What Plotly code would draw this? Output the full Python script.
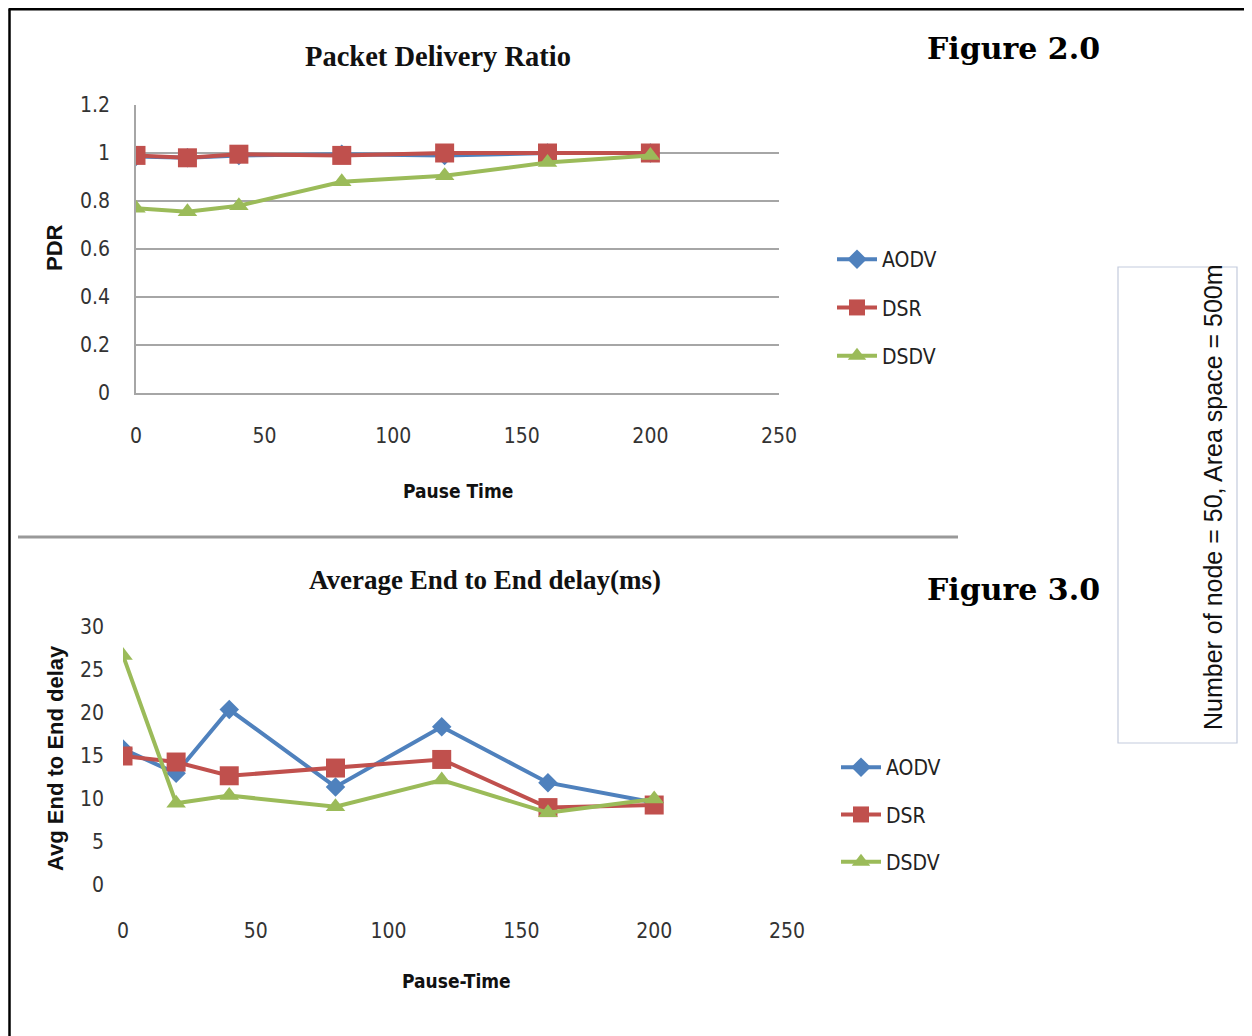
import plotly.graph_objects as go

W, H = 1252, 1036
OX, OY = 8, 8  # page offset of the figure (body margin)

# ---------------- data ----------------
pause_time = [0, 20, 40, 80, 120, 160, 200]
protocols = ["AODV", "DSR", "DSDV"]

pdr_aodv = [0.985, 0.98, 0.99, 0.995, 0.99, 1.0, 1.0]
pdr_dsr = [0.99, 0.98, 0.995, 0.99, 1.0, 1.0, 1.0]
pdr_dsdv = [0.77, 0.755, 0.78, 0.88, 0.905, 0.96, 0.99]

delay_aodv = [15.8, 13.0, 20.4, 11.4, 18.4, 11.9, 9.6]
delay_dsr = [15.0, 14.3, 12.7, 13.6, 14.6, 9.0, 9.3]
delay_dsdv = [26.7, 9.5, 10.4, 9.1, 12.2, 8.4, 10.0]

x_ticks = [0, 50, 100, 150, 200, 250]
pdr_ticks = [0, 0.2, 0.4, 0.6, 0.8, 1, 1.2]
pdr_tick_text = ["0", "0.2", "0.4", "0.6", "0.8", "1", "1.2"]
delay_ticks = [0, 5, 10, 15, 20, 25, 30]
delay_grid = [5, 15, 25]

# ---------------- styles ----------------
colors = {"AODV": "#4F81BD", "DSR": "#C0504D", "DSDV": "#9BBB59"}
symbols = {"AODV": "diamond", "DSR": "square", "DSDV": "triangle-up"}
msize = {"AODV": 15, "DSR": 19, "DSDV": 17}
NARROW = "Liberation Sans Narrow, Arial Narrow, DejaVu Sans Condensed, sans-serif"
SANS = "Liberation Sans, Arial, sans-serif"
SERIF = "Liberation Serif, Times New Roman, serif"
FIGSERIF = "DejaVu Serif, serif"
GRID = "#A6A6A6"
TICKCOL = "#333333"


def px(x):
    return (x - OX) / W


def py(y):
    return 1 - (y - OY) / H


fig = go.Figure()

pdr = {"AODV": pdr_aodv, "DSR": pdr_dsr, "DSDV": pdr_dsdv}
delay = {"AODV": delay_aodv, "DSR": delay_dsr, "DSDV": delay_dsdv}

for p in protocols:
    fig.add_trace(go.Scatter(
        x=pause_time, y=pdr[p], name=p, mode="lines+markers",
        line=dict(color=colors[p], width=4),
        marker=dict(symbol=symbols[p], size=msize[p], color=colors[p]),
        xaxis="x", yaxis="y", legend="legend", legendgroup="a" + p,
    ))
for p in protocols:
    fig.add_trace(go.Scatter(
        x=pause_time, y=delay[p], name=p, mode="lines+markers",
        line=dict(color=colors[p], width=4),
        marker=dict(symbol=symbols[p], size=msize[p], color=colors[p]),
        xaxis="x2", yaxis="y2", legend="legend2", legendgroup="b" + p,
    ))

tickfont = dict(family=NARROW, size=21, color=TICKCOL)

fig.update_layout(
    width=W, height=H,
    margin=dict(l=0, r=0, t=0, b=0, autoexpand=False),
    paper_bgcolor="white", plot_bgcolor="white",
    xaxis=dict(
        domain=[px(136), px(779)], range=[0, 250], tickvals=x_ticks,
        showgrid=False, zeroline=False, automargin=False,
        showline=True, linecolor=GRID, linewidth=1.5,
        ticks="", tickfont=tickfont, ticklabelstandoff=23,
        anchor="y",
    ),
    yaxis=dict(
        domain=[py(393), py(105)], range=[0, 1.2], tickvals=pdr_ticks,
        ticktext=pdr_tick_text, automargin=False,
        showgrid=True, gridcolor=GRID, gridwidth=1.5, zeroline=False,
        showline=True, linecolor=GRID, linewidth=1.5,
        ticks="", tickfont=tickfont, ticklabelstandoff=20,
        anchor="x",
    ),
    xaxis2=dict(
        domain=[px(123), px(787)], range=[0, 250], tickvals=x_ticks,
        showgrid=False, zeroline=False, showline=False, automargin=False,
        ticks="", tickfont=tickfont, ticklabelstandoff=31,
        anchor="y2",
    ),
    yaxis2=dict(
        domain=[py(885), py(627)], range=[0, 30], tickvals=delay_ticks,
        showgrid=False, zeroline=False, showline=False, automargin=False,
        ticks="", tickfont=tickfont, ticklabelstandoff=18,
        anchor="x2",
    ),
    yaxis3=dict(
        overlaying="y2", range=[0, 30], tickvals=delay_grid, automargin=False,
        showgrid=True, gridcolor=GRID, gridwidth=1.5, zeroline=False,
        showticklabels=False, ticks="", anchor="x2",
    ),
    legend=dict(
        x=px(832), y=py(239), xanchor="left", yanchor="top",
        font=dict(family=NARROW, size=21, color="#222222"),
        traceorder="grouped", tracegroupgap=18, bgcolor="rgba(0,0,0,0)",
        itemwidth=40,
    ),
    legend2=dict(
        x=px(836), y=py(747), xanchor="left", yanchor="top",
        font=dict(family=NARROW, size=21, color="#222222"),
        traceorder="grouped", tracegroupgap=17, bgcolor="rgba(0,0,0,0)",
        itemwidth=40,
    ),
    showlegend=True,
)

annotations = [
    dict(text="<b>Packet Delivery Ratio</b>", x=px(438), y=py(56),
         font=dict(family=SERIF, size=28.5, color="#111111")),
    dict(text="<b>Average End to End delay(ms)</b>", x=px(485), y=py(580),
         font=dict(family=SERIF, size=27, color="#111111")),
    dict(text="<b>Pause Time</b>", x=px(458), y=py(491),
         font=dict(family=NARROW, size=19, color="#111111")),
    dict(text="<b>Pause-Time</b>", x=px(456), y=py(981),
         font=dict(family=NARROW, size=19, color="#111111")),
    dict(text="<b>PDR</b>", x=px(55), y=py(248), textangle=-90,
         font=dict(family=SANS, size=22, color="#111111")),
    dict(text="<b>Avg End to End delay</b>", x=px(55), y=py(758), textangle=-90,
         font=dict(family=SANS, size=22, color="#111111")),
    dict(text="<b>Figure 2.0</b>", x=px(1013), y=py(48),
         font=dict(family=FIGSERIF, size=30, color="#000000")),
    dict(text="<b>Figure 3.0</b>", x=px(1014), y=py(589),
         font=dict(family=FIGSERIF, size=30, color="#000000")),
    dict(text="Number of node = 50, Area space = 500m", x=px(1213), y=py(497),
         textangle=-90, font=dict(family=SANS, size=25, color="#111111")),
]
for a in annotations:
    a.update(xref="paper", yref="paper", showarrow=False,
             xanchor="center", yanchor="middle")
fig.update_layout(annotations=annotations)

shapes = [
    # outer frame (left and top edges)
    dict(type="line", x0=px(9.5), x1=px(9.5), y0=py(9.2), y1=py(H + 20),
         line=dict(color="black", width=2.5)),
    dict(type="line", x0=px(8.5), x1=px(W + 20), y0=py(9.2), y1=py(9.2),
         line=dict(color="black", width=2.5)),
    # separator between the two charts
    dict(type="line", x0=px(18), x1=px(958), y0=py(537), y1=py(537),
         line=dict(color="#999999", width=3)),
    # box around the side note
    dict(type="rect", x0=px(1118), x1=px(1237), y0=py(743), y1=py(267),
         line=dict(color="#C3CBDD", width=1.2)),
]
for s in shapes:
    s.update(xref="paper", yref="paper", layer="above")
fig.update_layout(shapes=shapes)

fig.write_html("out.html")
